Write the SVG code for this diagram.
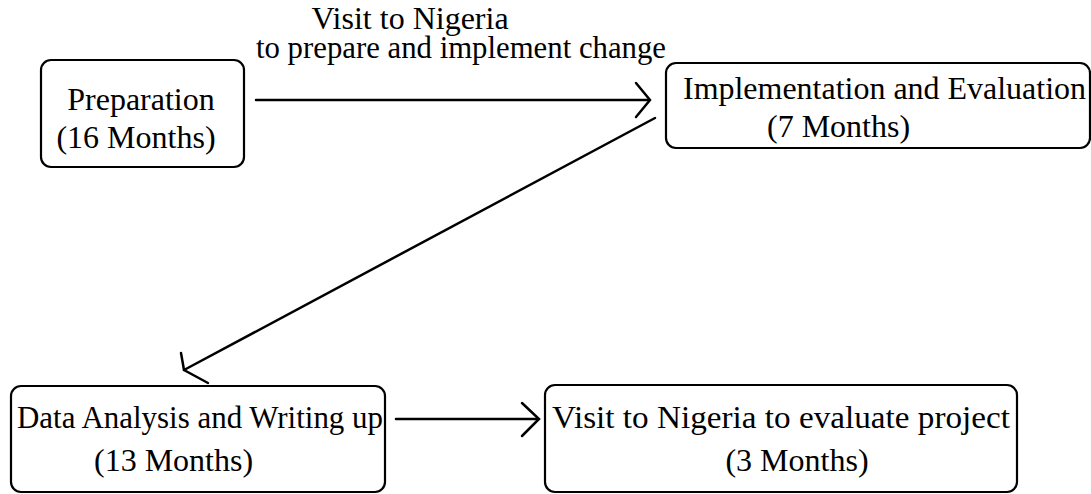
<svg xmlns="http://www.w3.org/2000/svg" width="1091" height="494" viewBox="0 0 1091 494">
  <style>
    .box { fill: #fff; stroke: #000; stroke-width: 2.2; }
    .lbl { font-family: "Liberation Serif", "Times New Roman", serif; font-size: 32px; fill: #000; }
    .edge { fill: none; stroke: #000; stroke-width: 2.5; stroke-linecap: round; stroke-linejoin: miter; }
  </style>
  <rect width="1091" height="494" fill="#fff"/>

  <g id="connectors">
    <!-- Preparation to Implementation -->
    <path class="edge" d="M256,100 H649"/>
    <path class="edge" d="M636,83 L650,100 L636,117"/>
    <text class="lbl" x="410" y="29" text-anchor="middle">Visit to Nigeria</text>
    <text class="lbl" x="256" y="58" textLength="410" lengthAdjust="spacingAndGlyphs">to prepare and implement change</text>
    <!-- Implementation to Data Analysis -->
    <path class="edge" d="M655,118 L184,370"/>
    <path class="edge" d="M181,353 L184,370 L208,383"/>
    <!-- Data Analysis to Visit -->
    <path class="edge" d="M396,419 H538"/>
    <path class="edge" d="M522,403 L539,419 L522,436"/>
  </g>

  <g id="preparation">
    <rect class="box" x="41" y="60" width="203" height="107" rx="10"/>
    <text class="lbl" x="141" y="110" text-anchor="middle">Preparation</text>
    <text class="lbl" x="136" y="148" text-anchor="middle">(16 Months)</text>
  </g>

  <g id="implementation">
    <rect class="box" x="666" y="63" width="424" height="85" rx="10"/>
    <text class="lbl" x="683" y="99" textLength="403" lengthAdjust="spacingAndGlyphs">Implementation and Evaluation</text>
    <text class="lbl" x="767" y="137">(7 Months)</text>
  </g>

  <g id="analysis">
    <rect class="box" x="11" y="386" width="374" height="106" rx="10"/>
    <text class="lbl" x="17" y="428" textLength="366" lengthAdjust="spacingAndGlyphs">Data Analysis and Writing up</text>
    <text class="lbl" x="94" y="471">(13 Months)</text>
  </g>

  <g id="evaluation">
    <rect class="box" x="545" y="385" width="472" height="107" rx="10"/>
    <text class="lbl" x="552" y="428" textLength="458" lengthAdjust="spacingAndGlyphs">Visit to Nigeria to evaluate project</text>
    <text class="lbl" x="797" y="471" text-anchor="middle">(3 Months)</text>
  </g>
</svg>
